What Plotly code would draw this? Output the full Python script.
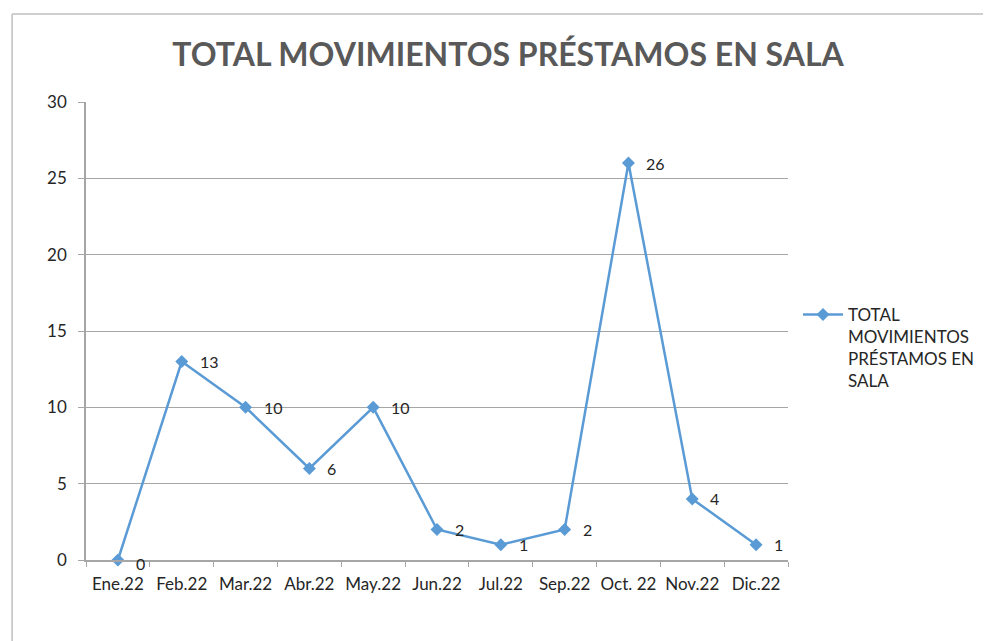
import plotly.graph_objects as go

months = ["Ene.22", "Feb.22", "Mar.22", "Abr.22", "May.22", "Jun.22",
          "Jul.22", "Sep.22", "Oct. 22", "Nov.22", "Dic.22"]
values = [0, 13, 10, 6, 10, 2, 1, 2, 26, 4, 1]
series_name = "TOTAL<br>MOVIMIENTOS<br>PRÉSTAMOS EN<br>SALA"
title_text = "TOTAL MOVIMIENTOS PRÉSTAMOS EN SALA"

OFF = 8  # page body margin
W, H = 991 - OFF, 641 - OFF
L, R, T, B = 86 - OFF, 202, 102 - OFF, 81
pw, ph = W - L - R, H - T - B

def px_x(p):  # page pixel -> paper
    return (p - OFF - L) / pw

def px_y(p):
    return (H - B - (p - OFF)) / ph

TXT = "#262626"

fig = go.Figure()
fig.add_trace(go.Scatter(
    x=months, y=values, mode="lines+markers",
    name=series_name,
    line=dict(color="#5B9BD5", width=2.5),
    marker=dict(symbol="diamond", size=10, color="#5B9BD5"),
    cliponaxis=False,
))

annotations = []
for m, v in zip(months, values):
    annotations.append(dict(
        x=m, y=v, xref="x", yref="y", text=str(v), showarrow=False,
        xanchor="left", yanchor="middle", xshift=16, yshift=(-3 if v == 0 else 0),
        font=dict(family="Lato", size=16, color=TXT),
    ))

fig.update_layout(
    width=W, height=H,
    margin=dict(l=L, r=R, t=T, b=B),
    paper_bgcolor="white", plot_bgcolor="white",
    font=dict(family="Lato", size=16, color=TXT),
    title=dict(text=title_text, x=px_x(508) * pw / W + L / W, xanchor="center",
               y=1 - (55 - OFF) / H, yanchor="middle",
               font=dict(family="Lato", size=32, color="#595959", weight="bold")),
    showlegend=True,
    legend=dict(x=px_x(798), y=px_y(297), xanchor="left", yanchor="top", valign="top",
                font=dict(family="Lato", size=17, color=TXT),
                bgcolor="rgba(0,0,0,0)", itemwidth=40, tracegroupgap=0),
    xaxis=dict(type="category", range=[-0.5, 10.5], showline=True, linecolor="#A6A6A6",
               linewidth=1.5, ticks="outside", tickson="boundaries", ticklen=5,
               tickcolor="#A6A6A6", showgrid=False, ticklabelstandoff=8, tickangle=0,
               tickfont=dict(family="Lato", size=17, color=TXT)),
    yaxis=dict(range=[0, 30], dtick=5, showline=True, linecolor="#A6A6A6", linewidth=1.5,
               ticks="outside", ticklen=6, tickcolor="#A6A6A6",
               showgrid=True, gridcolor="#A6A6A6", gridwidth=1, zeroline=False,
               tickfont=dict(family="Lato", size=17, color=TXT), ticklabelstandoff=8),
    annotations=annotations,
    shapes=[
        dict(type="line", xref="paper", yref="paper", x0=px_x(12), x1=px_x(12),
             y0=px_y(14), y1=px_y(660), line=dict(color="#BFBFBF", width=1.5)),
        dict(type="line", xref="paper", yref="paper", x0=px_x(12), x1=px_x(1000),
             y0=px_y(14), y1=px_y(14), line=dict(color="#BFBFBF", width=1.5)),
    ],
)

fig.write_html("out.html")
